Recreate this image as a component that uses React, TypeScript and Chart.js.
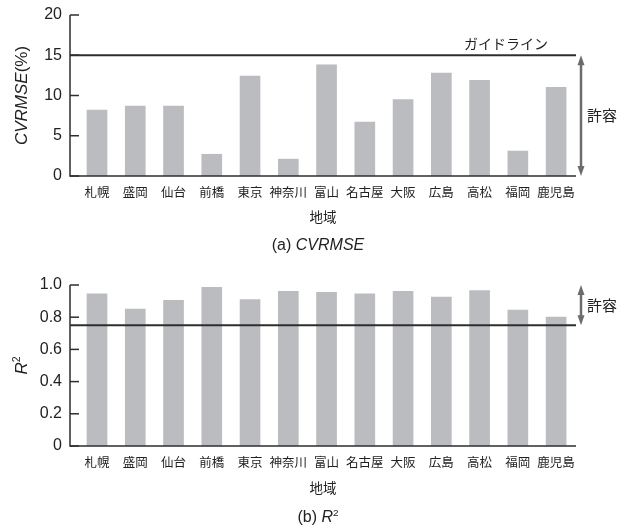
import { useEffect, useRef } from 'react';
import { Chart, registerables } from 'chart.js';

Chart.register(...registerables);

const regions = ['札幌', '盛岡', '仙台', '前橋', '東京', '神奈川', '富山', '名古屋', '大阪', '広島', '高松', '福岡', '鹿児島'];
const cvrmseValues = [8.2, 8.7, 8.7, 2.7, 12.4, 2.1, 13.8, 6.7, 9.5, 12.8, 11.9, 3.1, 11.0];
const r2Values = [0.945, 0.85, 0.905, 0.985, 0.91, 0.96, 0.955, 0.945, 0.96, 0.925, 0.965, 0.845, 0.80];
const cvrmseTicks = [0, 5, 10, 15, 20];
const r2Ticks = [0, 0.2, 0.4, 0.6, 0.8, 1.0];
const cvrmseGuideline = 15;
const r2Guideline = 0.75;
const xAxisTitle = '地域';
const guidelineLabel = 'ガイドライン';
const toleranceLabel = '許容';

const FONT = '"Liberation Sans", "Noto Sans CJK JP", sans-serif';
const JFONT = '"Noto Sans CJK JP", sans-serif';
const AXIS = '#2e2e2e';
const BAR = '#bbbcbf';
const ARROW = '#6c6c6c';
const TEXT = '#222';
const X_MIN = -0.706;
const X_MAX = 12.52;

type Run = { text: string; italic?: boolean; sup?: boolean };

function drawRuns(ctx: CanvasRenderingContext2D, runs: Run[], cx: number, cy: number, size: number) {
  const fontFor = (r: Run) => `${r.italic ? 'italic ' : ''}${r.sup ? size * 0.62 : size}px ${FONT}`;
  let total = 0;
  for (const r of runs) {
    ctx.font = fontFor(r);
    total += ctx.measureText(r.text).width;
  }
  let x = cx - total / 2;
  ctx.textBaseline = 'middle';
  ctx.textAlign = 'left';
  for (const r of runs) {
    ctx.font = fontFor(r);
    ctx.fillText(r.text, x, r.sup ? cy - size * 0.3 : cy);
    x += ctx.measureText(r.text).width;
  }
}

type Decor = {
  yTitle: Run[];
  caption: Run[];
  captionY: number;
  guideText?: string;
  arrowTop: number;
  arrowBottom: number;
};

function decorPlugin(d: Decor) {
  return {
    id: 'decor',
    afterDatasetsDraw(chart: any) {
      const { ctx, chartArea, scales } = chart;
      const y = scales.y;
      ctx.save();
      // axes
      ctx.strokeStyle = AXIS;
      ctx.lineWidth = 1.5;
      ctx.beginPath();
      ctx.moveTo(chartArea.left, chartArea.top);
      ctx.lineTo(chartArea.left, chartArea.bottom);
      ctx.lineTo(chartArea.right, chartArea.bottom);
      ctx.stroke();
      // inward tick marks on y axis
      for (const t of y.ticks) {
        const py = y.getPixelForValue(t.value);
        ctx.beginPath();
        ctx.moveTo(chartArea.left, py);
        ctx.lineTo(chartArea.left + 9, py);
        ctx.stroke();
      }
      ctx.restore();
    },
    afterDraw(chart: any) {
      const { ctx, chartArea, scales } = chart;
      const y = scales.y;
      ctx.save();
      ctx.fillStyle = TEXT;
      // y title
      ctx.save();
      ctx.translate(22, (chartArea.top + chartArea.bottom) / 2);
      ctx.rotate(-Math.PI / 2);
      drawRuns(ctx, d.yTitle, 0, 0, 17);
      ctx.restore();
      // caption
      drawRuns(ctx, d.caption, 318, d.captionY, 16);
      // guideline label
      if (d.guideText) {
        ctx.font = `14px ${JFONT}`;
        ctx.textAlign = 'right';
        ctx.textBaseline = 'middle';
        ctx.fillText(d.guideText, chartArea.right - 28, y.getPixelForValue(d.arrowTop) - 12);
      }
      // double-headed arrow
      const ax = chartArea.right + 5;
      const y1 = y.getPixelForValue(d.arrowTop);
      const y2 = y.getPixelForValue(d.arrowBottom);
      ctx.strokeStyle = ARROW;
      ctx.fillStyle = ARROW;
      ctx.lineWidth = 2.5;
      ctx.beginPath();
      ctx.moveTo(ax, y1 + 6);
      ctx.lineTo(ax, y2 - 6);
      ctx.stroke();
      ctx.beginPath();
      ctx.moveTo(ax, y1);
      ctx.lineTo(ax - 3.5, y1 + 10);
      ctx.lineTo(ax + 3.5, y1 + 10);
      ctx.closePath();
      ctx.fill();
      ctx.beginPath();
      ctx.moveTo(ax, y2);
      ctx.lineTo(ax - 3.5, y2 - 10);
      ctx.lineTo(ax + 3.5, y2 - 10);
      ctx.closePath();
      ctx.fill();
      // tolerance label
      ctx.fillStyle = TEXT;
      ctx.font = `15px ${JFONT}`;
      ctx.textAlign = 'left';
      ctx.textBaseline = 'middle';
      ctx.fillText(toleranceLabel, ax + 6, (y1 + y2) / 2);
      ctx.restore();
    },
  };
}

function makeConfig(
  values: number[],
  yTicks: number[],
  guide: number,
  tickFmt: (v: number) => string,
  padTop: number,
  xHeight: number,
  titlePadBottom: number,
  decor: Decor
): any {
  return {
    type: 'bar',
    data: {
      datasets: [
        {
          type: 'bar',
          data: values.map((v, i) => ({ x: i, y: v })),
          backgroundColor: BAR,
          borderWidth: 0,
          barThickness: 20,
          order: 2,
        },
        {
          type: 'line',
          data: [
            { x: X_MIN, y: guide },
            { x: X_MAX, y: guide },
          ],
          borderColor: AXIS,
          borderWidth: 2,
          pointRadius: 0,
          fill: false,
          order: 1,
        },
      ],
    },
    options: {
      responsive: false,
      animation: false,
      layout: { padding: { top: padTop, right: 52, left: 0, bottom: 0 } },
      plugins: { legend: { display: false }, tooltip: { enabled: false } },
      scales: {
        x: {
          type: 'linear',
          min: X_MIN,
          max: X_MAX,
          offset: false,
          afterBuildTicks: (axis: any) => {
            axis.ticks = regions.map((_, i) => ({ value: i }));
          },
          afterFit: (s: any) => {
            s.height = xHeight;
          },
          grid: { display: false, drawTicks: false, offset: false },
          border: { display: false },
          ticks: {
            autoSkip: false,
            maxRotation: 0,
            padding: 9,
            color: TEXT,
            font: { family: JFONT, size: 12.5 },
            callback: (v: number) => regions[Math.round(v)] ?? '',
          },
          title: {
            display: true,
            text: xAxisTitle,
            color: TEXT,
            font: { family: JFONT, size: 13.5 },
            padding: { top: 0, bottom: titlePadBottom },
          },
        },
        y: {
          min: yTicks[0],
          max: yTicks[yTicks.length - 1],
          afterBuildTicks: (axis: any) => {
            axis.ticks = yTicks.map((v) => ({ value: v }));
          },
          afterFit: (s: any) => {
            s.width = 70;
          },
          grid: { display: false, drawTicks: true, tickLength: 2 },
          border: { display: false },
          ticks: {
            padding: 6,
            color: TEXT,
            font: { family: FONT, size: 16, lineHeight: 1 },
            callback: (v: number) => tickFmt(v),
          },
        },
      },
    },
    plugins: [decorPlugin(decor)],
  };
}

export default function App() {
  const topRef = useRef<HTMLCanvasElement>(null);
  const botRef = useRef<HTMLCanvasElement>(null);

  useEffect(() => {
    const c1 = new Chart(
      topRef.current!,
      makeConfig(cvrmseValues, cvrmseTicks, cvrmseGuideline, (v) => String(v), 15, 84, 35, {
        yTitle: [{ text: 'CVRMSE', italic: true }, { text: '(%)' }],
        caption: [{ text: '(a) ' }, { text: 'CVRMSE', italic: true }],
        captionY: 246,
        guideText: guidelineLabel,
        arrowTop: cvrmseGuideline,
        arrowBottom: 0,
      })
    );
    const c2 = new Chart(
      botRef.current!,
      makeConfig(r2Values, r2Ticks, r2Guideline, (v) => (v === 0 ? '0' : v.toFixed(1)), 25, 86, 36, {
        yTitle: [{ text: 'R', italic: true }, { text: '2', sup: true }],
        caption: [{ text: '(b) ' }, { text: 'R', italic: true }, { text: '2', sup: true }],
        captionY: 258,
        arrowTop: 1.0,
        arrowBottom: r2Guideline,
      })
    );
    return () => {
      c1.destroy();
      c2.destroy();
    };
  }, []);

  return (
    <div style={{ position: 'absolute', left: 0, top: 0, width: 628, height: 532, background: '#fff' }}>
      <canvas ref={topRef} width={628} height={260} style={{ display: 'block' }} />
      <canvas ref={botRef} width={628} height={272} style={{ display: 'block' }} />
    </div>
  );
}
